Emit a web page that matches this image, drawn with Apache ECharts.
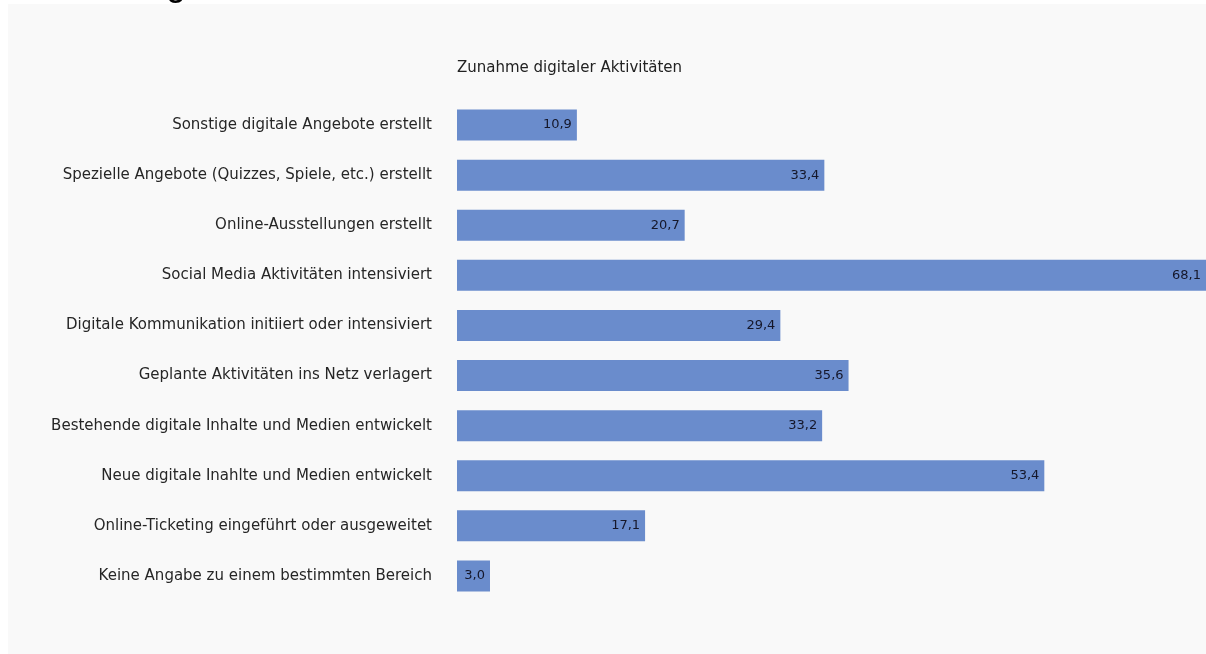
<!DOCTYPE html>
<html>
<head>
<meta charset="utf-8">
<script src="https://cdn.jsdelivr.net/npm/echarts@6/dist/echarts.min.js"></script>
<style>
  html, body { margin: 0; padding: 0; background: #ffffff; }
  #chart { width: 1206px; height: 654px; }
</style>
</head>
<body>
<div id="chart"></div>
<script>
// categories from bottom to top (category axis starts at the bottom)
var categories = [
  'Keine Angabe zu einem bestimmten Bereich',
  'Online-Ticketing eingeführt oder ausgeweitet',
  'Neue digitale Inahlte und Medien entwickelt',
  'Bestehende digitale Inhalte und Medien entwickelt',
  'Geplante Aktivitäten ins Netz verlagert',
  'Digitale Kommunikation initiiert oder intensiviert',
  'Social Media Aktivitäten intensiviert',
  'Online-Ausstellungen erstellt',
  'Spezielle Angebote (Quizzes, Spiele, etc.) erstellt',
  'Sonstige digitale Angebote erstellt'
];
var values = [3.0, 17.1, 53.4, 33.2, 35.6, 29.4, 68.1, 20.7, 33.4, 10.9];
var chartTitle = 'Zunahme digitaler Aktivitäten';

var chart = echarts.init(document.getElementById('chart'));

var option = {
  backgroundColor: '#ffffff',
  animation: false,
  textStyle: { fontFamily: 'DejaVu Sans, sans-serif' },
  graphic: [
    {
      type: 'rect',
      shape: { x: 8, y: 4, width: 1198, height: 650 },
      style: { fill: '#f9f9f9' },
      z: 0
    },
    {
      // heading above the panel, cut off by the top edge
      type: 'text',
      x: 26,
      y: 3,
      z: 1,
      style: {
        text: 'Abbildung',
        font: '36px Liberation Sans',
        fill: '#000000',
        verticalAlign: 'bottom'
      }
    }
  ],
  title: {
    text: chartTitle,
    left: 452,
    top: 56,
    textStyle: { fontSize: 15, fontWeight: 'normal', color: '#222222', fontFamily: 'DejaVu Sans' }
  },
  grid: { left: 457, right: 0, top: 100, bottom: 53, containLabel: false },
  xAxis: {
    type: 'value',
    min: 0,
    max: 68.1,
    show: false
  },
  yAxis: {
    type: 'category',
    data: categories,
    axisLine: { show: false },
    axisTick: { show: false },
    axisLabel: { color: '#262626', fontSize: 15, margin: 25 }
  },
  series: [
    {
      type: 'bar',
      data: values,
      barWidth: 31,
      itemStyle: { color: '#6a8ccc' },
      label: {
        show: true,
        position: 'insideRight',
        distance: 5,
        color: '#15172a',
        fontSize: 13,
        formatter: function (p) { return p.value.toFixed(1).replace('.', ','); }
      }
    }
  ]
};

chart.setOption(option);
</script>
</body>
</html>
